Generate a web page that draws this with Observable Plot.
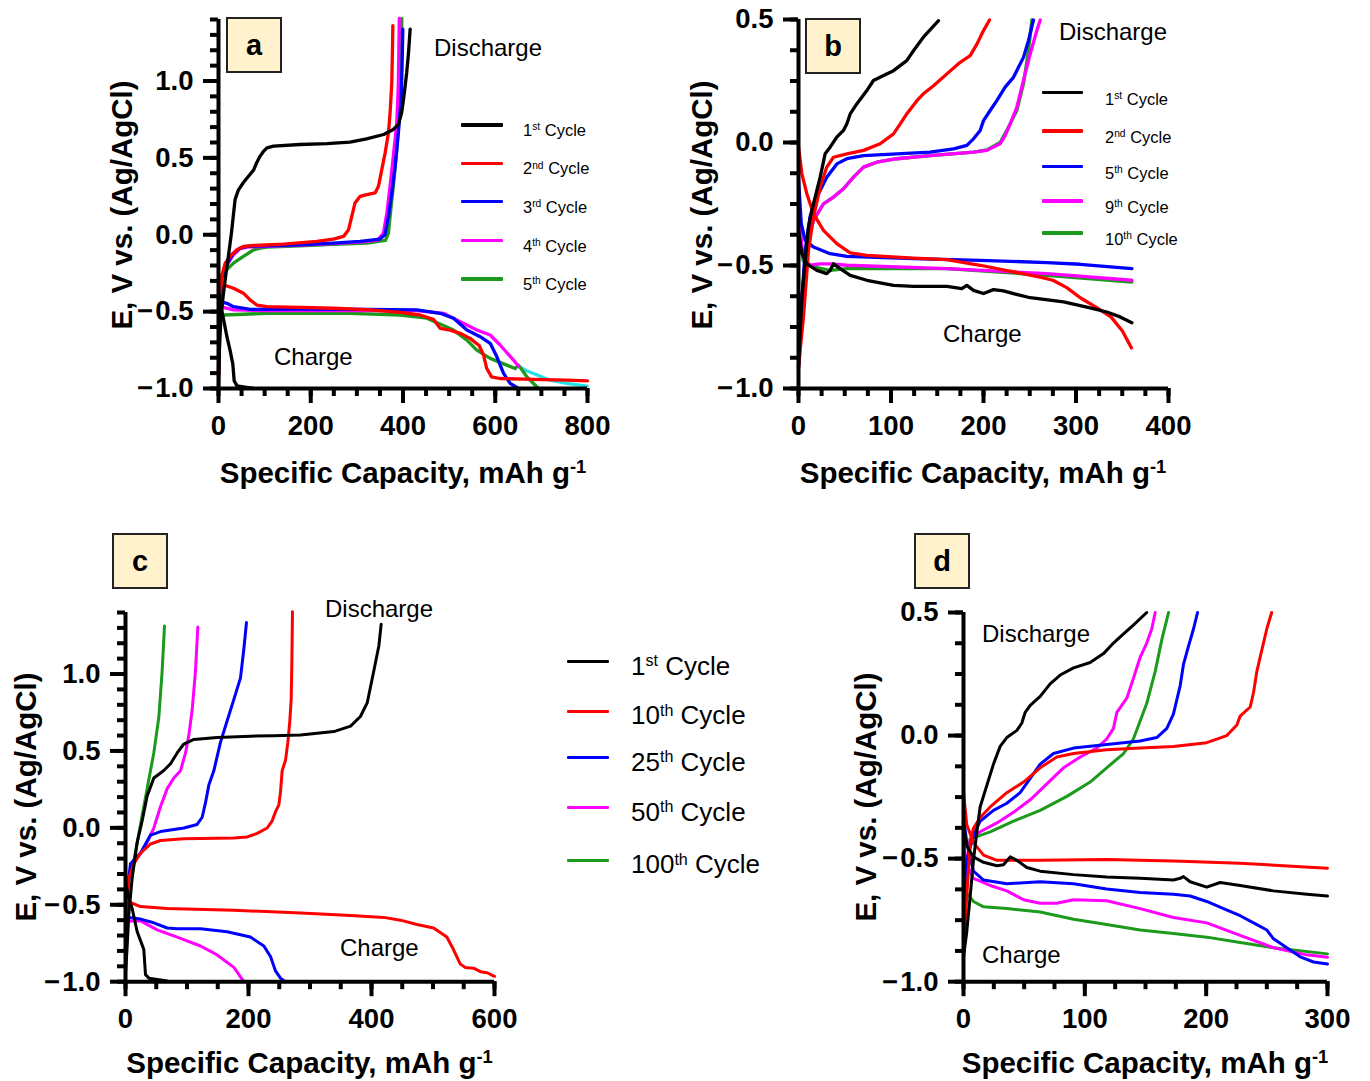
<!DOCTYPE html>
<html><head><meta charset="utf-8">
<script src="https://cdn.jsdelivr.net/npm/d3@7"></script>
<script src="https://cdn.jsdelivr.net/npm/@observablehq/plot@0.6"></script>
<style>
body{margin:0;background:#fff;}
#root{position:relative;width:1370px;height:1081px;overflow:hidden;font-family:"Liberation Sans",Arial,sans-serif;color:#000;}
.abs{position:absolute;white-space:nowrap;}
.sup{font-size:0.62em;position:relative;top:-0.55em;line-height:0;}
.box{position:absolute;box-sizing:border-box;border:2px solid #222;background:#fff2cc;font-weight:bold;font-size:29px;display:flex;align-items:center;justify-content:center;}
</style></head><body><div id="root"></div><script>
// ---------- Panel a (cycles 1-5) ----------
const A1_DIS=[[0,-1],[2,-0.75],[5,-0.55],[10,-0.40],[15,-0.28],[21,-0.15],[28,0.01],[36,0.23],[43,0.29],[54,0.34],[65,0.38],[76,0.42],[83,0.47],[90,0.51],[97,0.54],[105,0.565],[119,0.576],[177,0.587],[235,0.593],[285,0.602],[321,0.624],[358,0.652],[379,0.685],[390,0.717],[397,0.793],[402,0.90],[408,1.054],[412,1.185],[415.5,1.337]];
const A1_CHG=[[0,-0.36],[2,-0.40],[4,-0.45],[11,-0.55],[18,-0.66],[25,-0.75],[31,-0.84],[34,-0.95],[40,-0.983],[61,-0.993],[76,-1.0]];
const A2_DIS=[[0,-0.92],[2,-0.6],[3.6,-0.42],[7,-0.27],[14.5,-0.185],[25,-0.14],[40,-0.098],[54,-0.076],[76,-0.07],[141,-0.061],[213,-0.043],[249,-0.028],[271,-0.011],[282,0.033],[289,0.12],[296,0.207],[307,0.25],[321.5,0.261],[339.6,0.272],[346.8,0.315],[354,0.424],[361.3,0.533],[368.5,0.663],[372,0.793],[375.7,0.989],[377.2,1.207],[378,1.36]];
const A2_CHG=[[0,-0.33],[4,-0.326],[18,-0.333],[32.5,-0.348],[54,-0.38],[68.6,-0.424],[83,-0.457],[104.8,-0.467],[177,-0.472],[249,-0.478],[321.5,-0.487],[394,-0.505],[437,-0.522],[466,-0.55],[480.5,-0.609],[502,-0.62],[524,-0.641],[545.5,-0.674],[565,-0.72],[574.4,-0.78],[581.6,-0.87],[592,-0.924],[610,-0.935],[683,-0.941],[755,-0.946],[800,-0.95]];
const A3_DIS=[[0,-0.88],[3,-0.5],[7.2,-0.27],[18,-0.19],[32.5,-0.12],[47,-0.087],[61.4,-0.076],[104.8,-0.072],[177,-0.065],[249,-0.054],[307,-0.043],[350,-0.028],[361,0],[368.5,0.12],[375.7,0.272],[383,0.446],[390,0.663],[396,0.88],[398,1.098],[399.6,1.337]];
const A3_CHG=[[0,-0.42],[3.7,-0.435],[18.2,-0.446],[32.5,-0.468],[68.7,-0.485],[177,-0.483],[321.7,-0.485],[430,-0.489],[480.6,-0.511],[509.5,-0.543],[538.5,-0.62],[567.3,-0.663],[589,-0.706],[603.5,-0.794],[618,-0.902],[632.4,-0.967],[650.4,-1.0]];
const A4_DIS=[[0,-0.9],[3,-0.5],[7.2,-0.28],[18,-0.2],[32.5,-0.13],[47,-0.09],[61.4,-0.08],[104.8,-0.075],[177,-0.068],[249,-0.058],[307,-0.048],[345,-0.035],[357.7,0.011],[365,0.141],[372,0.315],[379,0.511],[386.6,0.728],[390,0.989],[392,1.407]];
const A4_CHG=[[0,-0.45],[3.7,-0.468],[32.5,-0.489],[105,-0.494],[249,-0.494],[430,-0.494],[488,-0.511],[524,-0.565],[560,-0.62],[589,-0.652],[610.6,-0.717],[639.5,-0.815],[650.4,-0.855]];
const A_TAIL=[[650.4,-0.855],[668,-0.885],[683,-0.902],[719,-0.946],[755,-0.967],[799,-0.985]];
const A5_DIS=[[0,-0.6],[3,-0.35],[7,-0.26],[18,-0.228],[32.5,-0.185],[54,-0.141],[76,-0.098],[90,-0.087],[104.8,-0.08],[177,-0.072],[249,-0.063],[321.5,-0.054],[362,-0.037],[368.5,0.011],[372,0.12],[379,0.315],[386.6,0.554],[392,0.815],[396,1.098],[397.4,1.407]];
const A5_CHG=[[0,-0.533],[10.8,-0.522],[105,-0.511],[285.5,-0.511],[394,-0.522],[451.7,-0.543],[509.5,-0.62],[538.5,-0.685],[560,-0.75],[589,-0.804],[625,-0.848],[643,-0.87],[650.4,-0.848],[668.5,-0.924],[693.7,-1.0]];
const A_LEGEND=[["1","st"],["2","nd"],["3","rd"],["4","th"],["5","th"]];

// ---------- Panel b (cycles 1,2,5,9,10) ----------
const B1_DIS=[[0,-0.91],[3.6,-0.64],[7.2,-0.479],[10.8,-0.344],[14.4,-0.276],[18,-0.222],[23.4,-0.141],[28.8,-0.046],[34.2,-0.019],[41.4,0.022],[48.6,0.049],[52.3,0.076],[55.9,0.116],[63,0.157],[73.9,0.211],[81,0.252],[92,0.272],[102.7,0.292],[117,0.333],[124.3,0.373],[135,0.428],[151.4,0.495]];
const B1_CHG=[[0,-0.36],[3.6,-0.452],[9,-0.493],[19.8,-0.52],[30.6,-0.533],[34.2,-0.52],[37.8,-0.493],[45,-0.513],[55.9,-0.54],[73.9,-0.56],[102.7,-0.581],[124.3,-0.585],[160.4,-0.585],[176.6,-0.594],[182,-0.581],[189.2,-0.601],[200,-0.614],[210.8,-0.598],[221.6,-0.603],[232.4,-0.614],[250.5,-0.631],[286.5,-0.648],[311.7,-0.669],[333.3,-0.689],[347.7,-0.709],[360.4,-0.733]];
const B2_DIS=[[0,-0.92],[1.8,-0.844],[5.4,-0.709],[10.8,-0.438],[16.2,-0.303],[23.4,-0.181],[30.6,-0.1],[37.8,-0.06],[52.3,-0.046],[70.3,-0.032],[88.3,-0.005],[102.7,0.035],[110,0.076],[117,0.116],[128,0.17],[135,0.198],[146,0.231],[160.4,0.279],[174.8,0.326],[185.6,0.353],[193,0.401],[200,0.455],[206.5,0.498]];
const B2_CHG=[[0,-0.016],[3.6,-0.127],[9,-0.208],[16.2,-0.29],[27,-0.357],[41.4,-0.411],[55.9,-0.449],[73.9,-0.459],[124.3,-0.47],[160.4,-0.476],[196.4,-0.499],[232.4,-0.526],[261.3,-0.547],[275,-0.56],[290,-0.59],[305,-0.632],[322,-0.67],[338,-0.71],[350,-0.765],[360,-0.835]];
const B5_DIS=[[0,-0.91],[3.6,-0.64],[7.2,-0.44],[12.6,-0.3],[19.8,-0.222],[30.6,-0.141],[41.4,-0.087],[52.3,-0.066],[70.3,-0.053],[106.3,-0.046],[142.3,-0.039],[167.6,-0.026],[182,-0.012],[189.2,0.015],[196.4,0.049],[200,0.089],[207.2,0.13],[214.4,0.17],[223.4,0.225],[232.4,0.265],[243.2,0.346],[248.6,0.414],[254,0.498]];
const B5_CHG=[[0,-0.15],[3,-0.33],[7.2,-0.398],[16.2,-0.425],[34.2,-0.452],[52.3,-0.463],[124.3,-0.472],[196.4,-0.479],[268.5,-0.488],[304.5,-0.495],[360.4,-0.513]];
const B9_DIS=[[0,-0.85],[3.6,-0.64],[9,-0.4],[16.2,-0.317],[27,-0.249],[37.8,-0.222],[48.6,-0.188],[59.5,-0.141],[70.3,-0.1],[84.7,-0.08],[106.3,-0.066],[142.3,-0.053],[189.2,-0.039],[203.6,-0.032],[218,-0.005],[223.4,0.028],[228.8,0.076],[236,0.143],[243.2,0.252],[250.5,0.36],[257.7,0.455],[261.3,0.498]];
const B9_CHG=[[0,-0.263],[3.6,-0.425],[7.2,-0.479],[12.6,-0.499],[23.4,-0.493],[34.2,-0.493],[52.3,-0.499],[160.4,-0.513],[268.5,-0.533],[360.4,-0.56]];
const B10_DIS=[[0,-0.85],[3.6,-0.64],[9,-0.4],[16.2,-0.317],[27,-0.249],[37.8,-0.222],[48.6,-0.188],[59.5,-0.141],[70.3,-0.1],[84.7,-0.08],[106.3,-0.066],[142.3,-0.053],[189.2,-0.039],[203.6,-0.03],[218,0],[227,0.062],[236,0.13],[243.2,0.238],[248.6,0.373],[252.3,0.498]];
const B10_CHG=[[0,-0.3],[5,-0.48],[16.2,-0.506],[34.2,-0.52],[52.3,-0.513],[160.4,-0.513],[268.5,-0.54],[360.4,-0.567]];
const B_LEGEND=[["1","st"],["2","nd"],["5","th"],["9","th"],["10","th"]];

// ---------- Panel c (cycles 1,10,25,50,100) ----------
const C1_DIS=[[0,-0.95],[3,-0.75],[5.4,-0.56],[10.8,-0.326],[19,-0.094],[27.1,0.046],[35.2,0.208],[46.1,0.324],[61.8,0.371],[73.2,0.417],[84,0.487],[94.9,0.545],[111,0.575],[149,0.587],[203,0.596],[241,0.599],[284.6,0.603],[338.8,0.626],[366,0.661],[382,0.724],[393,0.812],[403.8,1.021],[412,1.184],[415.7,1.323]];
const C1_CHG=[[0,-0.35],[5,-0.45],[10.8,-0.524],[19,-0.675],[24.4,-0.733],[29.8,-0.791],[32.5,-0.954],[38,-0.977],[67.8,-0.995]];
const C10_DIS=[[0,-0.9],[2,-0.5],[5.4,-0.326],[13.6,-0.233],[24.4,-0.164],[40.7,-0.105],[56.9,-0.082],[94.9,-0.071],[176,-0.066],[197.8,-0.059],[214,-0.036],[230.4,-0.001],[238.5,0.046],[243.9,0.104],[249.3,0.15],[252,0.231],[254.7,0.371],[260.2,0.44],[264,0.557],[267.2,0.696],[269.4,0.835],[270.5,1.068],[271.5,1.405]];
const C10_CHG=[[0,-0.49],[2.7,-0.477],[24.4,-0.512],[67.8,-0.524],[176,-0.535],[284.6,-0.554],[366,-0.57],[420,-0.582],[447,-0.6],[474,-0.628],[501,-0.651],[522.5,-0.71],[533.3,-0.791],[544.2,-0.884],[552,-0.907],[566,-0.912],[577.2,-0.935],[588,-0.942],[600,-0.965]];
const C25_DIS=[[0,-0.9],[3,-0.4],[8.1,-0.233],[24.4,-0.164],[40.7,-0.047],[56.9,-0.024],[94.9,-0.001],[116.5,0.022],[124.7,0.069],[130,0.162],[135.5,0.278],[143.6,0.371],[154.5,0.557],[165.3,0.696],[176.2,0.835],[187,0.975],[192.4,1.161],[196.7,1.335]];
const C25_CHG=[[0,-0.55],[5.4,-0.582],[24.4,-0.593],[46,-0.617],[67.8,-0.651],[84,-0.656],[122,-0.656],[165.3,-0.675],[203,-0.71],[225,-0.768],[235.8,-0.837],[243.9,-0.93],[252,-0.977],[260,-1.0]];
const C50_DIS=[[0,-0.85],[4,-0.35],[10.8,-0.233],[29.8,-0.14],[46,-0.001],[57,0.139],[67.8,0.255],[78.6,0.324],[89.4,0.371],[97.6,0.487],[103,0.603],[108.4,0.766],[113.8,1.021],[117.6,1.305]];
const C50_CHG=[[0,-0.58],[2.7,-0.605],[24.4,-0.605],[51.5,-0.663],[84,-0.71],[122,-0.768],[149,-0.826],[176.2,-0.907],[192.4,-1.0]];
const C100_DIS=[[0,-0.6],[5,-0.35],[13.6,-0.21],[24.4,0.022],[35.2,0.255],[46,0.487],[54.2,0.719],[59.6,1.021],[63.4,1.312]];
const C_LEGEND=[["1","st"],["10","th"],["25","th"],["50","th"],["100","th"]];

// ---------- Panel d (cycles 1,10,25,50,100, zoomed) ----------
const D1_DIS=[[0,-0.9],[2.7,-0.797],[5.5,-0.652],[8.2,-0.507],[11,-0.391],[13.7,-0.29],[19.2,-0.203],[24.7,-0.116],[30.2,-0.044],[35.7,-0.008],[44,0.021],[48,0.05],[50.8,0.094],[55,0.123],[63.2,0.159],[71.4,0.21],[79.7,0.246],[90.7,0.275],[104.4,0.297],[115.4,0.333],[123.6,0.376],[131.9,0.413],[140,0.449],[151,0.5]];
const D1_CHG=[[0,-0.362],[2.7,-0.449],[8.2,-0.493],[16.5,-0.515],[27.5,-0.529],[33,-0.525],[38.5,-0.493],[44,-0.507],[52.2,-0.536],[63.2,-0.551],[90.7,-0.565],[118,-0.575],[145.6,-0.58],[173,-0.587],[178.6,-0.58],[181.3,-0.573],[186.8,-0.594],[200.5,-0.616],[211.5,-0.597],[228,-0.609],[255.5,-0.631],[283,-0.645],[300,-0.652]];
const D10_DIS=[[0,-0.87],[2.7,-0.652],[5.5,-0.435],[8.2,-0.377],[13.7,-0.333],[22,-0.29],[35.7,-0.232],[49.5,-0.189],[63.2,-0.131],[76.9,-0.087],[90.7,-0.073],[118,-0.058],[145.6,-0.051],[173,-0.044],[200.5,-0.029],[217,0],[225.3,0.043],[228,0.079],[236.3,0.116],[239,0.174],[241.8,0.261],[244.5,0.319],[250,0.434],[254,0.5]];
const D10_CHG=[[0,-0.232],[2.7,-0.362],[8.2,-0.435],[16.5,-0.486],[27.5,-0.507],[63.2,-0.507],[118,-0.504],[173,-0.51],[228,-0.519],[300,-0.539]];
const D25_DIS=[[0,-0.8],[2.7,-0.507],[8.2,-0.406],[13.7,-0.348],[24.7,-0.304],[35.7,-0.275],[46.7,-0.232],[55,-0.174],[63.2,-0.116],[74.2,-0.073],[90.7,-0.051],[118,-0.036],[145.6,-0.022],[159.3,-0.008],[167.6,0.029],[173,0.087],[178.6,0.203],[181.3,0.289],[185.4,0.362],[189.6,0.434],[192.9,0.5]];
const D25_CHG=[[0,-0.333],[2.7,-0.435],[8.2,-0.551],[16.5,-0.587],[35.7,-0.602],[63.2,-0.594],[90.7,-0.602],[118,-0.623],[145.6,-0.638],[173,-0.645],[186.8,-0.652],[200.5,-0.674],[214.3,-0.703],[228,-0.732],[241.8,-0.768],[250,-0.79],[255.5,-0.826],[266.5,-0.862],[277.5,-0.899],[288.5,-0.92],[300,-0.928]];
const D50_DIS=[[0,-0.7],[5.5,-0.42],[13.7,-0.391],[27.5,-0.355],[41.2,-0.312],[55,-0.261],[68.7,-0.196],[82.4,-0.131],[96.2,-0.087],[109.9,-0.051],[118,-0.014],[123.6,0.029],[126.4,0.094],[134.6,0.152],[140,0.232],[145.6,0.318],[151,0.376],[155.2,0.434],[158,0.5]];
const D50_CHG=[[0,-0.435],[2.7,-0.522],[8.2,-0.58],[22,-0.609],[35.7,-0.631],[49.5,-0.667],[63.2,-0.681],[76.9,-0.681],[90.7,-0.667],[118,-0.671],[145.6,-0.703],[173,-0.739],[200.5,-0.761],[228,-0.812],[255.5,-0.862],[283,-0.891],[300,-0.901]];
const D100_DIS=[[0,-0.65],[5.5,-0.42],[22,-0.391],[41.2,-0.348],[63.2,-0.304],[85.2,-0.247],[104.4,-0.189],[118,-0.131],[131.9,-0.073],[140,-0.014],[151,0.13],[158,0.261],[163.5,0.391],[169,0.5]];
const D100_CHG=[[0,-0.623],[8.2,-0.674],[16.5,-0.696],[35.7,-0.703],[63.2,-0.717],[90.7,-0.746],[118,-0.768],[145.6,-0.79],[173,-0.804],[200.5,-0.819],[228,-0.841],[255.5,-0.862],[300,-0.887]];

// ---------- ticks ----------
const X_TICKS_800=[0,200,400,600,800];
const X_TICKS_600=[0,200,400,600];
const X_TICKS_400=[0,100,200,300,400];
const X_TICKS_300=[0,100,200,300];
const Y_TICKS_LONG=[-1.0,-0.5,0.0,0.5,1.0];
const Y_TICKS_SHORT=[-1.0,-0.5,0.0,0.5];

const COL={k:"#000000",r:"#ff0000",b:"#0000ff",m:"#ff00ff",g:"#1c9a1c",c:"#22e2e6"};
const FONT='"Liberation Sans", Arial, sans-serif';
const root=document.getElementById("root");
const fmtY=v=>(v<0?"\u2212\u200A":"")+Math.abs(v).toFixed(1);

function panel({curves,xDomain,yDomain,xMajor,xMinorStep,yMajor,yMinorStep,frame,sw}){
  const [fx0,fx1,fy0,fy1]=frame;
  const ml=120,mr=30,mt=14,mb=60;
  const width=fx1-fx0+ml+mr, height=fy1-fy0+mt+mb;
  const data=curves.flatMap(([key,color,pts])=>pts.map(([x,y])=>({key,color,x,y})));
  const xMinor=d3.range(xDomain[0],xDomain[1]+1e-6,xMinorStep);
  const yMinor=d3.range(0,Math.round((yDomain[1]-yDomain[0])/yMinorStep)+1).map(i=>+(yDomain[0]+i*yMinorStep).toFixed(4));
  const svg=Plot.plot({
    width,height,marginLeft:ml,marginRight:mr,marginTop:mt,marginBottom:mb,
    x:{domain:xDomain},y:{domain:yDomain},color:{type:"identity"},
    style:{fontFamily:FONT,background:"transparent",overflow:"visible",color:"#000"},
    marks:[
      Plot.line(data,{x:"x",y:"y",z:"key",stroke:"color",strokeWidth:sw,strokeLinejoin:"round",strokeLinecap:"round"}),
      Plot.axisX(xMinor,{tickSize:8,strokeWidth:4,tickFormat:()=>"",label:null}),
      Plot.axisX(xMajor,{tickSize:15,strokeWidth:4,tickPadding:12,fontSize:27.5,fontWeight:"bold",tickFormat:d3.format("d"),label:null}),
      Plot.axisY(yMinor,{tickSize:8,strokeWidth:4,tickFormat:()=>"",label:null}),
      Plot.axisY(yMajor,{tickSize:15,strokeWidth:4,tickPadding:10,fontSize:27.5,fontWeight:"bold",tickFormat:fmtY,label:null}),
      Plot.ruleX([xDomain[0]],{strokeWidth:4}),
      Plot.ruleY([yDomain[0]],{strokeWidth:4})
    ]
  });
  svg.style.position="absolute";
  svg.style.left=(fx0-ml)+"px";
  svg.style.top=(fy0-mt)+"px";
  svg.querySelectorAll("text").forEach(t=>{t.style.fontWeight="bold";t.style.whiteSpace="pre";});
  root.appendChild(svg);
}

function txt(html,left,baseline,size,opts={}){
  const d=document.createElement("div");
  d.className="abs";
  d.innerHTML=html;
  d.style.fontSize=size+"px";
  d.style.lineHeight=size+"px";
  d.style.left=left+"px";
  d.style.top=(baseline-0.8465*size)+"px";
  if(opts.bold)d.style.fontWeight="bold";
  if(opts.center)d.style.transform="translateX(-50%)";
  root.appendChild(d);
}
function ytitle(cx,cy){
  const d=document.createElement("div");
  d.className="abs";
  d.textContent="E, V vs. (Ag/AgCl)";
  d.style.fontSize="29.5px";d.style.lineHeight="29.5px";d.style.fontWeight="bold";
  d.style.left=cx+"px";d.style.top=cy+"px";
  d.style.transform="translate(-50%,-50%) rotate(-90deg)";
  root.appendChild(d);
}
function xtitle(cx,baseline){
  txt('Specific Capacity, mAh g<span class="sup">-1</span>',cx,baseline,29.5,{bold:true,center:true});
}
function box(letter,left,top){
  const d=document.createElement("div");
  d.className="box";d.textContent=letter;
  d.style.left=left+"px";d.style.top=top+"px";d.style.width="56px";d.style.height="56px";
  root.appendChild(d);
}
function legend(items,colors,x0,x1,ys,tx,size,gap,lw){
  items.forEach(([n,s],i)=>{
    const l=document.createElement("div");
    l.className="abs";
    l.style.left=x0+"px";l.style.width=(x1-x0)+"px";l.style.top=(ys[i]-lw/2)+"px";l.style.height=lw+"px";
    l.style.background=colors[i];l.style.borderRadius="1px";
    root.appendChild(l);
    txt(n+'<span class="sup">'+s+'</span> Cycle',tx,ys[i]+gap,size);
  });
}

// Panel a
panel({curves:[["a5c",COL.c,A_TAIL],["a5d",COL.g,A5_DIS],["a5ch",COL.g,A5_CHG],["a4d",COL.m,A4_DIS],["a4ch",COL.m,A4_CHG],["a3d",COL.b,A3_DIS],["a3ch",COL.b,A3_CHG],["a2d",COL.r,A2_DIS],["a2ch",COL.r,A2_CHG],["a1d",COL.k,A1_DIS],["a1ch",COL.k,A1_CHG]],
  xDomain:[0,800],yDomain:[-1,1.4],xMajor:X_TICKS_800,xMinorStep:50,yMajor:Y_TICKS_LONG,yMinorStep:0.1,frame:[218.3,587.3,19.3,388.3],sw:3.3});
// Panel b
panel({curves:[["b10d",COL.g,B10_DIS],["b10ch",COL.g,B10_CHG],["b9d",COL.m,B9_DIS],["b9ch",COL.m,B9_CHG],["b5d",COL.b,B5_DIS],["b5ch",COL.b,B5_CHG],["b2d",COL.r,B2_DIS],["b2ch",COL.r,B2_CHG],["b1d",COL.k,B1_DIS],["b1ch",COL.k,B1_CHG]],
  xDomain:[0,400],yDomain:[-1,0.5],xMajor:X_TICKS_400,xMinorStep:25,yMajor:Y_TICKS_SHORT,yMinorStep:0.125,frame:[798.3,1168.3,19.3,388.3],sw:3.3});
// Panel c
panel({curves:[["c100d",COL.g,C100_DIS],["c50d",COL.m,C50_DIS],["c50ch",COL.m,C50_CHG],["c25d",COL.b,C25_DIS],["c25ch",COL.b,C25_CHG],["c10d",COL.r,C10_DIS],["c10ch",COL.r,C10_CHG],["c1d",COL.k,C1_DIS],["c1ch",COL.k,C1_CHG]],
  xDomain:[0,600],yDomain:[-1,1.4],xMajor:X_TICKS_600,xMinorStep:50,yMajor:Y_TICKS_LONG,yMinorStep:0.1,frame:[125,494,611.5,980.7],sw:3});
// Panel d
panel({curves:[["d100d",COL.g,D100_DIS],["d100ch",COL.g,D100_CHG],["d50d",COL.m,D50_DIS],["d50ch",COL.m,D50_CHG],["d25d",COL.b,D25_DIS],["d25ch",COL.b,D25_CHG],["d10d",COL.r,D10_DIS],["d10ch",COL.r,D10_CHG],["d1d",COL.k,D1_DIS],["d1ch",COL.k,D1_CHG]],
  xDomain:[0,300],yDomain:[-1,0.5],xMajor:X_TICKS_300,xMinorStep:25,yMajor:Y_TICKS_SHORT,yMinorStep:0.125,frame:[963.3,1327.3,611.5,980.7],sw:3});

// titles
ytitle(122,205);ytitle(702,205);ytitle(26,797);ytitle(866,797);
xtitle(403,483);xtitle(983,483);xtitle(309.5,1073);xtitle(1145,1073);
// panel letters
box("a",226,17);box("b",805,18);box("c",112,533);box("d",914,533);
// annotations
txt("Discharge",434,56.7,24);txt("Charge",274,365,24);
txt("Discharge",1059,40,24);txt("Charge",943,342,24);
txt("Discharge",325,617,24);txt("Charge",340,956,24);
txt("Discharge",982,642,24);txt("Charge",982,963,24);
// legends
legend(A_LEGEND,[COL.k,COL.r,COL.b,COL.m,COL.g],461,503,[125,163.3,201.7,240.7,279],523,16.5,11,3.5);
legend(B_LEGEND,[COL.k,COL.r,COL.b,COL.m,COL.g],1042,1083,[92.7,131,166.7,201,233],1105,16.5,12,3.5);
legend(C_LEGEND,[COL.k,COL.r,COL.b,COL.m,COL.g],567,609,[661.7,711,757.7,807.3,860],631,26,13.5,3);
</script></body></html>
